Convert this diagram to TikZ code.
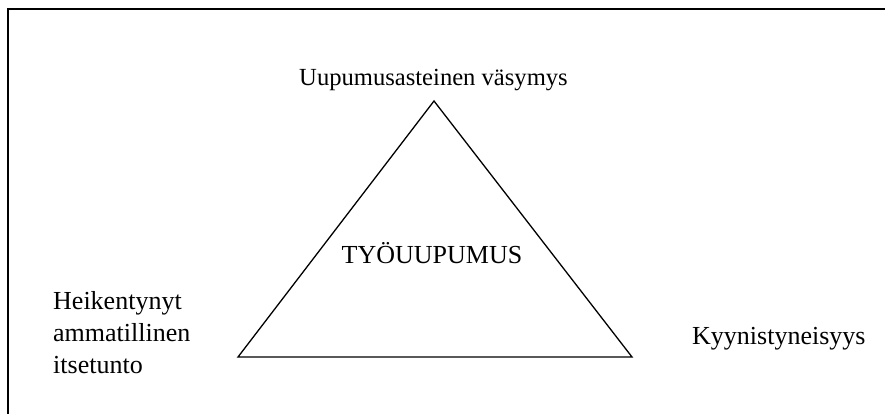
\documentclass[tikz,border=0pt]{standalone}
\usepackage{fontspec}
\setmainfont{Liberation Serif}
\usetikzlibrary{positioning}

\begin{document}
\begin{tikzpicture}[
    x=1pt, y=-1pt,
    label/.style={inner sep=0pt, font=\fontsize{26}{32}\selectfont, align=left},
    edge/.style={line width=1.3pt, line join=miter},
]
    \useasboundingbox (0,0) rectangle (885,414);
    \clip (0,0) rectangle (885,414);
    \draw[line width=1.6pt] (8,9) rectangle (900,430);

    \coordinate (apex) at (434,101);
    \coordinate (left) at (238,357);
    \coordinate (right) at (632,357);
    \draw[edge] (apex) -- (left) -- (right) -- cycle;

    \node[label, font=\fontsize{24.6}{32}\selectfont, anchor=base] (fatigue) at (433.5,86) {Uupumusasteinen väsymys};
    \node[label, anchor=base] (burnout) at (432,263) {TYÖUUPUMUS};
    \node[label, anchor=base west] (selfesteem) at (53,373) {Heikentynyt\\ammatillinen\\itsetunto};
    \node[label, anchor=base west] (cynicism) at (692,344) {Kyynistyneisyys};
\end{tikzpicture}
\end{document}
